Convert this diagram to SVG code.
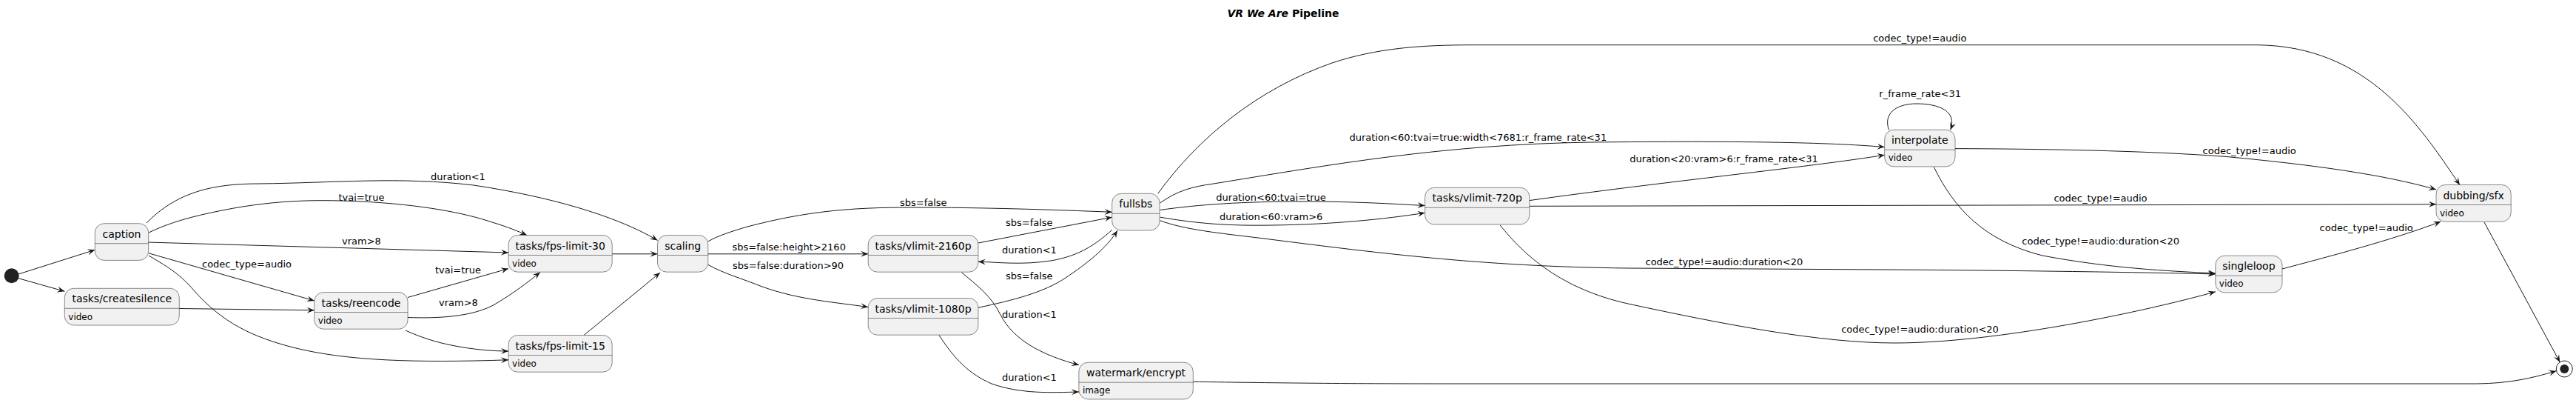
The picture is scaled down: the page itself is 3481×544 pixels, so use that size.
<svg xmlns="http://www.w3.org/2000/svg" width="3481" height="544" viewBox="0 0 3481 544">
<style>
.n rect{fill:#F1F1F1;stroke:#181818;stroke-width:0.5}
.n line{stroke:#181818;stroke-width:0.5}
.t{font-family:"DejaVu Sans",sans-serif;font-size:14px;fill:#000;text-anchor:middle}
.d{font-family:"DejaVu Sans",sans-serif;font-size:12px;fill:#000}
.l{font-family:"DejaVu Sans",sans-serif;font-size:13px;fill:#000}
#edges path{fill:none;stroke:#181818;stroke-width:1;marker-end:url(#ah)}
.title{font-family:"DejaVu Sans",sans-serif;font-size:14px;font-weight:bold;fill:#000;text-anchor:middle}
</style>
<defs>
<marker id="ah" viewBox="-11 -5 12 10" refX="0" refY="0" markerWidth="12" markerHeight="10" markerUnits="userSpaceOnUse" orient="auto">
<path d="M0,0 L-10,-4 L-6,0 L-10,4 Z" fill="#181818"/>
</marker>
</defs>
<rect width="3481" height="544" fill="#FFFFFF"/>
<text class="title" x="1734" y="23"><tspan font-style="italic">VR We Are</tspan> Pipeline</text>

<g id="edges">
<path d="M25,370 L128.3,337.3"/>
<path d="M25,375.7 L87.3,393.3"/>
<path d="M198,301 C240,258 290,248 350,248 C450,247 540,238 640,250 C740,265 830,290 888.6,324.4"/>
<path d="M201,314 C230,300 260,292 300,284 C380,268 440,270 488,272 C570,276 630,288 665,300 C685,306 700,312 712,317.5"/>
<path d="M199,327 L687,341"/>
<path d="M201,341.8 L424.8,406"/>
<path d="M201,345 C230,362 245,372 262,392 C300,435 340,455 400,470 C470,487 560,490 687,485.8"/>
<path d="M242.3,416.5 L424.8,418.8"/>
<path d="M551,401.5 L687,362.6"/>
<path d="M551,428.5 C590,430 640,428 670,410 C695,395 712,382 730,367.5"/>
<path d="M548,446 C570,456 590,462 610,466 C640,472 665,474 687,474"/>
<path d="M827.2,342.8 L888.5,342.8"/>
<path d="M789,452.5 L892,368"/>
<path d="M956.8,326 C970,318 990,312 1010,306 C1090,285 1150,280 1230,280 C1330,280 1420,283 1502.7,286.3"/>
<path d="M956.8,342.8 L1173.2,342.8"/>
<path d="M956.8,357.4 C980,370 1000,375 1030,387 C1080,405 1130,408 1173.2,414.6"/>
<path d="M1321.9,328 L1502.7,293.2"/>
<path d="M1502.7,310.5 C1480,330 1460,345 1420,352 C1380,358 1350,354 1321.9,353.2"/>
<path d="M1321.9,415.3 C1370,405 1410,395 1440,375 C1470,355 1495,335 1510,311.2"/>
<path d="M1299.5,367.8 C1320,385 1340,400 1352,425 C1370,460 1410,480 1458,492.7"/>
<path d="M1269,452.5 C1290,485 1310,505 1340,518 C1380,532 1420,530 1458,529"/>
<path d="M1612.3,515.3 C1700,516.5 1800,518 1950,518 L3347,518 C3390,517.5 3420,511 3454.3,500.7"/>
<path d="M1564.7,261.3 C1620,185 1700,120 1800,85 C1860,65 1920,60.7 1990,60.7 L3050,60.7 C3200,62 3270,170 3324,249.8"/>
<path d="M1567.6,274 C1590,258 1610,252 1640,248 C1800,222 1950,195 2150,192 C2350,190 2470,192 2546.7,198.5"/>
<path d="M1567.6,283.5 C1620,276 1680,272 1760,272 C1830,272 1880,275 1925.6,277.6"/>
<path d="M1567.6,293.2 C1620,302 1660,305 1720,304 C1800,303 1870,296 1925.6,287.3"/>
<path d="M1567.6,297.7 C1600,310 1650,315 1700,321 C1850,340 2000,360 2200,362 L2600,364.3 C2800,366 2900,368 2993.8,369.9"/>
<path d="M2066.8,270.6 C2250,245 2450,225 2546.7,209.2"/>
<path d="M2066.8,278.3 L3292,275.8"/>
<path d="M2027.2,304 C2060,345 2110,390 2200,410 C2330,438 2460,463 2560,463 C2700,463 2900,420 2993.8,393.8"/>
<path d="M2552.5,175.2 C2545,155 2560,140 2590,140 C2620,140 2645,150 2635.7,175.2"/>
<path d="M2642,200.6 C2750,201 2900,203 3011,211.7 C3120,222 3220,235 3292,256"/>
<path d="M2613.3,225.5 C2640,280 2680,325 2760,345 C2850,362 2930,366 2993.8,368.9"/>
<path d="M3084,363 C3140,348 3230,325 3298.4,299.1"/>
<path d="M3357,300 L3459.3,489"/>
</g>

<g id="labels">
<text class="l" x="582" y="243">duration&lt;1</text>
<text class="l" x="457.5" y="270.6">tvai=true</text>
<text class="l" x="462" y="330">vram&gt;8</text>
<text class="l" x="273" y="361">codec_type=audio</text>
<text class="l" x="588" y="368.5">tvai=true</text>
<text class="l" x="593" y="413">vram&gt;8</text>
<text class="l" x="1216" y="277.6">sbs=false</text>
<text class="l" x="989.5" y="338.3">sbs=false:height&gt;2160</text>
<text class="l" x="990" y="362.6">sbs=false:duration&gt;90</text>
<text class="l" x="1359" y="304.6">sbs=false</text>
<text class="l" x="1354" y="341.8">duration&lt;1</text>
<text class="l" x="1359" y="376.5">sbs=false</text>
<text class="l" x="1354" y="428.5">duration&lt;1</text>
<text class="l" x="1354" y="513.5">duration&lt;1</text>
<text class="l" x="2531.2" y="55.5">codec_type!=audio</text>
<text class="l" x="1823.4" y="190">duration&lt;60:tvai=true:width&lt;7681:r_frame_rate&lt;31</text>
<text class="l" x="1643.3" y="270.6">duration&lt;60:tvai=true</text>
<text class="l" x="1648" y="296.7">duration&lt;60:vram&gt;6</text>
<text class="l" x="2223.5" y="358.1">codec_type!=audio:duration&lt;20</text>
<text class="l" x="2202.3" y="219.3">duration&lt;20:vram&gt;6:r_frame_rate&lt;31</text>
<text class="l" x="2775.4" y="272.4">codec_type!=audio</text>
<text class="l" x="2488.2" y="449.3">codec_type!=audio:duration&lt;20</text>
<text class="l" x="2539.3" y="131.2">r_frame_rate&lt;31</text>
<text class="l" x="2976.6" y="208.2">codec_type!=audio</text>
<text class="l" x="2732.3" y="329.6">codec_type!=audio:duration&lt;20</text>
<text class="l" x="3134.6" y="312.3">codec_type!=audio</text>
</g>

<g id="start"><circle cx="15.7" cy="372.3" r="10" fill="#222222"/></g>
<g id="end"><circle cx="3465.3" cy="498" r="11" fill="none" stroke="#222222" stroke-width="1"/><circle cx="3465.3" cy="498" r="6" fill="#222222"/></g>

<g id="caption" class="n"><rect x="128.3" y="301.7" width="72.4" height="49.7" rx="12.5"/><line x1="128.3" y1="328.7" x2="200.7" y2="328.7"/><text class="t" x="164.5" y="320.7">caption</text></g>
<g id="createsilence" class="n"><rect x="87.3" y="389.3" width="155" height="49.7" rx="12.5"/><line x1="87.3" y1="416.3" x2="242.3" y2="416.3"/><text class="t" x="164.8" y="408.3">tasks/createsilence</text><text class="d" x="92.3" y="431.5">video</text></g>
<g id="reencode" class="n"><rect x="424.8" y="394.5" width="126.3" height="49.7" rx="12.5"/><line x1="424.8" y1="421.5" x2="551.1" y2="421.5"/><text class="t" x="488" y="413.5">tasks/reencode</text><text class="d" x="429.8" y="436.5">video</text></g>
<g id="fps30" class="n"><rect x="687.1" y="317.5" width="140.1" height="49.7" rx="12.5"/><line x1="687.1" y1="344.5" x2="827.2" y2="344.5"/><text class="t" x="757.2" y="336.5">tasks/fps-limit-30</text><text class="d" x="692.1" y="359.5">video</text></g>
<g id="fps15" class="n"><rect x="687.1" y="452.5" width="140.1" height="49.7" rx="12.5"/><line x1="687.1" y1="479.5" x2="827.2" y2="479.5"/><text class="t" x="757.2" y="471.5">tasks/fps-limit-15</text><text class="d" x="692.1" y="494.5">video</text></g>
<g id="scaling" class="n"><rect x="888.5" y="317.5" width="68.3" height="49.7" rx="12.5"/><line x1="888.5" y1="344.5" x2="956.8" y2="344.5"/><text class="t" x="922.7" y="336.5">scaling</text></g>
<g id="vlimit2160" class="n"><rect x="1173.2" y="317.5" width="148.7" height="49.7" rx="12.5"/><line x1="1173.2" y1="344.5" x2="1321.9" y2="344.5"/><text class="t" x="1247.5" y="336.5">tasks/vlimit-2160p</text></g>
<g id="vlimit1080" class="n"><rect x="1173.2" y="402.5" width="148.7" height="49.7" rx="12.5"/><line x1="1173.2" y1="429.5" x2="1321.9" y2="429.5"/><text class="t" x="1247.5" y="421.5">tasks/vlimit-1080p</text></g>
<g id="fullsbs" class="n"><rect x="1502.7" y="261.3" width="64.3" height="49.7" rx="12.5"/><line x1="1502.7" y1="288.3" x2="1567" y2="288.3"/><text class="t" x="1534.8" y="280.3">fullsbs</text></g>
<g id="watermark" class="n"><rect x="1457.9" y="489.2" width="154.4" height="49.7" rx="12.5"/><line x1="1457.9" y1="516.2" x2="1612.3" y2="516.2"/><text class="t" x="1535.1" y="508.2">watermark/encrypt</text><text class="d" x="1462.9" y="531.2">image</text></g>
<g id="vlimit720" class="n"><rect x="1925.6" y="253.3" width="141.2" height="49.7" rx="12.5"/><line x1="1925.6" y1="280.3" x2="2066.8" y2="280.3"/><text class="t" x="1996.2" y="272.3">tasks/vlimit-720p</text></g>
<g id="interpolate" class="n"><rect x="2546.7" y="175.2" width="95.3" height="49.7" rx="12.5"/><line x1="2546.7" y1="202.2" x2="2642" y2="202.2"/><text class="t" x="2594.3" y="194.2">interpolate</text><text class="d" x="2551.7" y="217.2">video</text></g>
<g id="dubbing" class="n"><rect x="3292" y="249.5" width="101.2" height="49.7" rx="12.5"/><line x1="3292" y1="276.5" x2="3393.2" y2="276.5"/><text class="t" x="3342.6" y="268.5">dubbing/sfx</text><text class="d" x="3297" y="291.5">video</text></g>
<g id="singleloop" class="n"><rect x="2993.8" y="345.2" width="90.2" height="49.7" rx="12.5"/><line x1="2993.8" y1="372.2" x2="3084" y2="372.2"/><text class="t" x="3038.9" y="364.2">singleloop</text><text class="d" x="2998.8" y="387.2">video</text></g>
</svg>
